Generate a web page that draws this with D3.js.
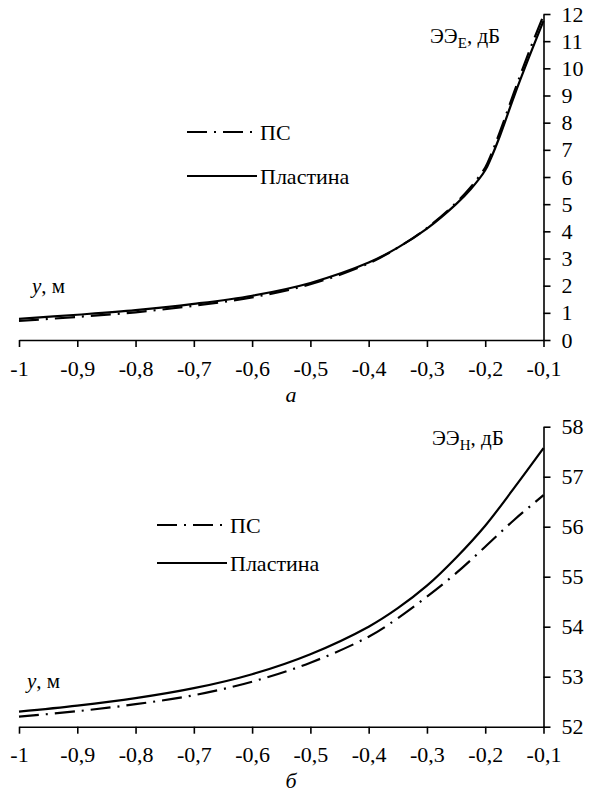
<!DOCTYPE html>
<html>
<head>
<meta charset="utf-8">
<script src="https://cdn.jsdelivr.net/npm/d3@7"></script>
<style>
  html, body { margin: 0; padding: 0; background: #fff; }
</style>
</head>
<body>
<div id="chart"></div>
<script>
// x values shared by both panels (y, м)
const xTicks = [-1, -0.9, -0.8, -0.7, -0.6, -0.5, -0.4, -0.3, -0.2, -0.1];

// panel a: ЭЭ_E, дБ
const xA = [-1, -0.9, -0.8, -0.7, -0.6, -0.5, -0.4, -0.35, -0.3, -0.25, -0.225, -0.2, -0.19, -0.175, -0.15, -0.125, -0.1];
const plateA = [0.78, 0.93, 1.1, 1.33, 1.63, 2.1, 2.85, 3.4, 4.1, 5.0, 5.55, 6.25, 6.7, 7.5, 9.0, 10.4, 11.75];
const psA = [0.7, 0.85, 1.02, 1.26, 1.57, 2.05, 2.82, 3.4, 4.12, 5.05, 5.62, 6.35, 6.82, 7.65, 9.15, 10.6, 11.95];
const yTicksA = [0, 1, 2, 3, 4, 5, 6, 7, 8, 9, 10, 11, 12];

// panel б: ЭЭ_H, дБ
const xB = [-1, -0.9, -0.8, -0.7, -0.6, -0.5, -0.4, -0.35, -0.3, -0.25, -0.2, -0.15, -0.1];
const plateB = [52.3, 52.42, 52.57, 52.77, 53.05, 53.45, 54.0, 54.37, 54.82, 55.38, 56.02, 56.78, 57.57];
const psB = [52.2, 52.31, 52.45, 52.63, 52.9, 53.28, 53.8, 54.17, 54.6, 55.07, 55.6, 56.14, 56.63];
const yTicksB = [52, 53, 54, 55, 56, 57, 58];

const seriesNames = ['ПС', 'Пластина'];

const W = 591, H = 796;
const X_RANGE = [19, 543.5];
const DASH = '20,7,2,7';
const FONT = '"Liberation Serif", "DejaVu Serif", Times, "Times New Roman", serif';

const svg = d3.select('#chart').append('svg')
  .attr('width', W)
  .attr('height', H)
  .style('display', 'block')
  .style('font-family', FONT);

const commaFmt = (d) => String(Math.round(d * 10) / 10).replace('.', ',');

function drawPanel(cfg) {
  const x = d3.scaleLinear().domain([-1, -0.1]).range(X_RANGE);
  const y = d3.scaleLinear().domain(cfg.yDomain).range(cfg.yRange);
  const g = svg.append('g');

  const xAxis = g.append('g')
    .attr('transform', `translate(0,${cfg.yRange[0]})`)
    .call(d3.axisBottom(x).tickValues(xTicks).tickFormat(commaFmt)
      .tickSize(7).tickSizeOuter(0).tickPadding(13));

  const yAxis = g.append('g')
    .attr('transform', `translate(${X_RANGE[1]},0)`)
    .call(d3.axisRight(y).tickValues(cfg.yTicks).tickFormat(d3.format('d'))
      .tickSize(7).tickSizeOuter(0).tickPadding(11));

  [xAxis, yAxis].forEach((axis) => {
    axis.attr('font-family', FONT).attr('font-size', 22);
    axis.selectAll('text').style('font-size', '22px').style('fill', '#000');
    axis.selectAll('path,line').style('stroke', '#000').style('stroke-width', 1.6);
  });

  const line = d3.line()
    .x((d) => x(d[0]))
    .y((d) => y(d[1]))
    .curve(d3.curveCatmullRom.alpha(0.5));

  g.append('path')
    .datum(cfg.xs.map((v, i) => [v, cfg.plate[i]]))
    .attr('d', line)
    .attr('fill', 'none')
    .attr('stroke', '#000')
    .attr('stroke-width', 2.2);

  g.append('path')
    .datum(cfg.xs.map((v, i) => [v, cfg.ps[i]]))
    .attr('d', line)
    .attr('fill', 'none')
    .attr('stroke', '#000')
    .attr('stroke-width', 2.2)
    .attr('stroke-dasharray', DASH);

  // legend
  const lg = g.append('g');
  [[cfg.legend.y0, DASH, seriesNames[0]], [cfg.legend.y1, null, seriesNames[1]]].forEach(([ly, dash, name]) => {
    lg.append('line')
      .attr('x1', cfg.legend.x).attr('x2', cfg.legend.x + 70)
      .attr('y1', ly).attr('y2', ly)
      .attr('stroke', '#000').attr('stroke-width', 2.2)
      .attr('stroke-dasharray', dash);
    lg.append('text')
      .attr('x', cfg.legend.x + 73).attr('y', ly)
      .attr('dy', '0.35em')
      .style('font-size', '22px')
      .text(name);
  });

  // axis titles
  const yt = g.append('text')
    .attr('x', cfg.yTitle.x).attr('y', cfg.yTitle.y)
    .style('font-size', '21px');
  yt.append('tspan').text('ЭЭ');
  yt.append('tspan').attr('dy', 5).style('font-size', '15px').text(cfg.sub);
  yt.append('tspan').attr('dy', -5).text(', дБ');

  const xt = g.append('text')
    .attr('x', cfg.xTitle.x).attr('y', cfg.xTitle.y)
    .style('font-size', '21px');
  xt.append('tspan').style('font-style', 'italic').text('y');
  xt.append('tspan').text(', м');

  g.append('text')
    .attr('x', 291).attr('y', cfg.letterY)
    .attr('text-anchor', 'middle')
    .style('font-size', '22px')
    .style('font-style', 'italic')
    .text(cfg.letter);
}

drawPanel({
  yDomain: [0, 12], yRange: [340, 14], yTicks: yTicksA,
  xs: xA, plate: plateA, ps: psA,
  legend: { x: 187, y0: 132, y1: 176 },
  yTitle: { x: 430, y: 43 }, sub: 'E',
  xTitle: { x: 32, y: 293 },
  letter: 'а', letterY: 402
});

drawPanel({
  yDomain: [52, 58], yRange: [726.7, 426.7], yTicks: yTicksB,
  xs: xB, plate: plateB, ps: psB,
  legend: { x: 157, y0: 525, y1: 563 },
  yTitle: { x: 432, y: 445 }, sub: 'H',
  xTitle: { x: 27, y: 688 },
  letter: 'б', letterY: 788
});
</script>
</body>
</html>
